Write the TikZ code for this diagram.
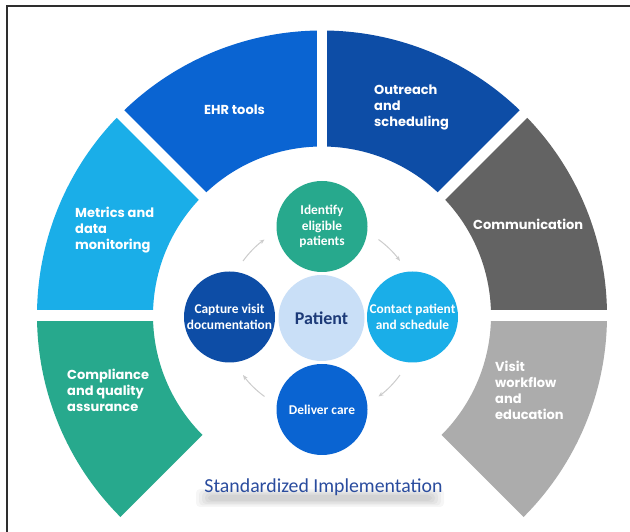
\documentclass[tikz,border=0pt]{standalone}
\usepackage{fontspec}
\newfontfamily\popfont{Poppins}
\newfontfamily\calfont{Carlito}
\usetikzlibrary{arrows.meta}

\definecolor{ehrblue}{HTML}{0A64D2}
\definecolor{navyblue}{HTML}{0D4DA6}
\definecolor{skyblue}{HTML}{1AAEE8}
\definecolor{darkgrey}{HTML}{636363}
\definecolor{lightgrey}{HTML}{ACACAC}
\definecolor{tealgreen}{HTML}{27A98D}
\definecolor{paleblue}{HTML}{C9DFF7}
\definecolor{patientnavy}{HTML}{1C3A78}
\definecolor{titleblue}{HTML}{2A4C9E}
\definecolor{cyclegrey}{HTML}{CCCCCC}
\definecolor{framegrey}{HTML}{2E2E2E}

\tikzset{
  seglabel/.style={font=\popfont\bfseries\fontsize{13}{16}\selectfont, text=white,
    align=left, anchor=west, inner sep=0pt},
  stepcircle/.style={circle, minimum size=91pt, inner sep=0pt, text=white,
    align=center, font=\calfont\bfseries\fontsize{13.4}{15.5}\selectfont},
  cyc/.style={draw=cyclegrey, line width=1pt, -{Stealth[length=5pt,width=4pt]}},
  gapline/.style={draw=white, line width=10.5pt},
}

\newcommand{\ringsector}[3]{%
  \fill[#1] ([shift={(#2:169)}]ring) arc[start angle=#2, end angle=#3, radius=169]
    -- ([shift={(#3:285)}]ring) arc[start angle=#3, end angle=#2, radius=285] -- cycle;}

\begin{document}
\begin{tikzpicture}[x=1pt, y=1pt]
\useasboundingbox (0,0) rectangle (630,532);
\fill[white] (0,0) rectangle (630,532);
\draw[framegrey, line width=2pt] (6.5,0) -- (6.5,525.5) -- (630,525.5);

\coordinate (ring) at (322,216.5);

% outer ring segments
\ringsector{skyblue}{135}{180}
\ringsector{ehrblue}{90}{135}
\ringsector{navyblue}{45}{90}
\ringsector{darkgrey}{0}{45}
\ringsector{tealgreen}{180}{225}
\ringsector{lightgrey}{-45}{0}

% white gaps between the segments
\foreach \a in {0,45,90,135,180}
  \draw[gapline] ([shift={(\a:160)}]ring) -- ([shift={(\a:295)}]ring);

% segment labels
\node[seglabel] (ehr) at (204,422) {EHR tools};
\node[seglabel] (outreach) at (374,424.5) {Outreach\\and\\scheduling};
\node[seglabel] (metrics) at (75,302) {Metrics and\\data\\monitoring};
\node[seglabel] (comm) at (473,308) {Communication};
\node[seglabel] (compliance) at (67,142) {Compliance\\and quality\\assurance};
\node[seglabel] (visit) at (495,142) {Visit\\workflow\\and\\education};

% care cycle
\node[stepcircle, fill=paleblue, minimum size=86pt, text=patientnavy,
  font=\calfont\bfseries\fontsize{18}{20}\selectfont] (patient) at (321.5,214) {Patient};
\node[stepcircle, fill=tealgreen] (identify) at (322,305.5) {Identify\\eligible\\patients};
\node[stepcircle, fill=skyblue] (contact) at (412.5,215) {Contact patient\\and schedule};
\node[stepcircle, fill=ehrblue] (deliver) at (322,122.5) {Deliver care};
\node[stepcircle, fill=navyblue] (capture) at (229.5,215) {Capture visit\\documentation};

\draw[cyc] ([shift={(144:97)}]patient.center) arc[start angle=144, end angle=126, radius=97];
\draw[cyc] ([shift={(54:97)}]patient.center) arc[start angle=54, end angle=36, radius=97];
\draw[cyc] ([shift={(-36:97)}]patient.center) arc[start angle=-36, end angle=-54, radius=97];
\draw[cyc] ([shift={(-126:97)}]patient.center) arc[start angle=-126, end angle=-144, radius=97];

% soft shadow band under the title
\foreach \w/\h in {124/9,121/7.5,118/6,115/4.5,112/3}
  \fill[black, opacity=0.035, rounded corners=4pt] (320-\w,34-\h) rectangle (320+\w,34+\h);
\node[anchor=base, text=titleblue, font=\calfont\fontsize{19.8}{22}\selectfont]
  (title) at (323.5,39) {Standardized Implementation};
\end{tikzpicture}
\end{document}
